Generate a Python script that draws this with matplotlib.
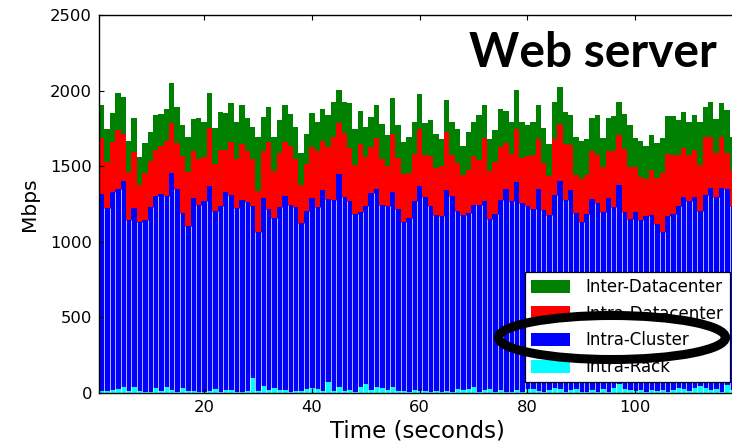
import numpy as np
import matplotlib
matplotlib.use("Agg")
import matplotlib.pyplot as plt
from matplotlib.patches import Ellipse, Patch

# traffic per second (Mbps)
seconds = np.arange(1, 119)

intra_rack = [11, 11, 20, 26, 40, 11, 40, 13, 7, 7,
              33, 13, 40, 20, 7, 33, 13, 13, 7, 4,
              13, 26, 4, 20, 20, 7, 4, 13, 99, 13,
              46, 20, 33, 20, 20, 7, 13, 13, 26, 33,
              26, 11, 73, 13, 40, 13, 20, 7, 40, 60,
              20, 40, 33, 20, 40, 13, 13, 7, 20, 13,
              13, 7, 13, 7, 13, 7, 26, 20, 26, 40,
              7, 20, 26, 7, 20, 7, 7, 20, 7, 26,
              26, 13, 7, 20, 33, 26, 7, 20, 26, 7,
              7, 20, 7, 26, 7, 33, 60, 26, 20, 13,
              20, 7, 20, 13, 20, 7, 20, 33, 26, 13,
              33, 46, 33, 20, 26, 7, 53, 20]

intra_cluster = [1307, 1215, 1312, 1323, 1362, 1135, 1186, 1120, 1139, 1223,
                 1272, 1305, 1265, 1435, 1342, 1157, 1094, 1279, 1236, 1266,
                 1358, 1178, 1235, 1312, 1290, 1219, 1275, 1252, 1140, 1054,
                 1246, 1197, 1127, 1210, 1285, 1236, 1217, 1111, 1178, 1259,
                 1204, 1334, 1210, 1266, 1411, 1283, 1250, 1179, 1159, 1179,
                 1303, 1309, 1210, 1219, 1292, 1204, 1120, 1153, 1250, 1358,
                 1283, 1232, 1164, 1166, 1332, 1298, 1178, 1157, 1164, 1203,
                 1236, 1250, 1125, 1179, 1259, 1342, 1263, 1378, 1250, 1213,
                 1191, 1336, 1206, 1157, 1277, 1376, 1272, 1325, 1164, 1126,
                 1179, 1263, 1250, 1173, 1285, 1197, 1316, 1173, 1131, 1186,
                 1126, 1161, 1157, 1107, 1047, 1166, 1166, 1206, 1270, 1257,
                 1263, 1158, 1277, 1338, 1270, 1351, 1296, 1219]

intra_dc = [370, 304, 331, 392, 313, 318, 370, 243, 309, 304,
            304, 318, 362, 331, 304, 379, 357, 309, 304, 291,
            384, 313, 370, 278, 353, 322, 370, 335, 309, 269,
            309, 445, 309, 357, 357, 392, 318, 251, 313, 335,
            370, 322, 344, 415, 335, 423, 353, 322, 450, 322,
            304, 340, 304, 265, 384, 340, 318, 295, 313, 375,
            278, 331, 313, 331, 384, 269, 318, 265, 287, 326,
            300, 419, 318, 344, 348, 304, 313, 348, 300, 331,
            357, 331, 309, 260, 370, 379, 370, 295, 251, 282,
            256, 318, 318, 295, 309, 370, 331, 415, 344, 295,
            282, 247, 300, 304, 388, 410, 388, 335, 326, 304,
            313, 304, 384, 335, 291, 335, 238, 236]

inter_dc = [216, 216, 190, 243, 243, 203, 223, 185, 198, 194,
            229, 212, 212, 265, 238, 203, 229, 212, 273, 234,
            229, 238, 251, 245, 256, 247, 256, 218, 212, 357,
            225, 229, 225, 218, 243, 209, 212, 212, 196, 225,
            192, 212, 212, 232, 218, 205, 295, 238, 216, 198,
            198, 216, 232, 203, 236, 216, 212, 238, 209, 234,
            212, 236, 225, 176, 212, 218, 225, 194, 251, 223,
            295, 216, 212, 209, 251, 212, 209, 258, 236, 203,
            218, 225, 229, 212, 247, 243, 207, 198, 251, 251,
            238, 218, 265, 192, 218, 232, 218, 232, 278, 192,
            238, 218, 229, 229, 232, 249, 258, 232, 236, 216,
            229, 282, 198, 232, 225, 225, 284, 218]

labels = ["Inter-Datacenter", "Intra-Datacenter", "Intra-Cluster", "Intra-Rack"]
colors = ["#008000", "#ff0000", "#0000ff", "#00ffff"]

rack = np.array(intra_rack)
cluster = np.array(intra_cluster)
idc = np.array(intra_dc)
xdc = np.array(inter_dc)

W, H = 732, 443
fig = plt.figure(figsize=(W / 100, H / 100), dpi=100)
ax = fig.add_axes([99 / W, 50 / H, 636 / W, 378 / H])

ax.bar(seconds, rack, width=1.0, color=colors[3], linewidth=0)
ax.bar(seconds, cluster, width=1.0, bottom=rack, color=colors[2], linewidth=0)
ax.bar(seconds, idc, width=1.0, bottom=rack + cluster, color=colors[1], linewidth=0)
ax.bar(seconds, xdc, width=1.0, bottom=rack + cluster + idc, color=colors[0], linewidth=0)

# thin white separators between neighbouring blue bars
blue_top = rack + cluster
ax.vlines(seconds[:-1] + 0.5, 0, np.minimum(blue_top[:-1], blue_top[1:]),
          colors="white", linewidth=0.5)

ax.set_xlim(0.5, 118.5)
ax.set_ylim(0, 2500)
ax.set_xticks([20, 40, 60, 80, 100])
ax.set_yticks([0, 500, 1000, 1500, 2000, 2500])
ax.tick_params(direction="in", length=3.6, width=0.8, top=True,
               labelsize=11.8, pad=5)
for s in ax.spines.values():
    s.set_linewidth(1.0)
ax.spines["right"].set_visible(False)

ax.set_xlabel("Time (seconds)", fontsize=16.5, labelpad=3)
ax.set_ylabel("Mbps", fontsize=14.5, labelpad=8)

handles = [Patch(facecolor=c, edgecolor="none") for c in colors]
leg = ax.legend(handles, labels, loc="lower right",
                bbox_to_anchor=(729.5 / W, 61 / H), bbox_transform=fig.transFigure,
                borderaxespad=0, fontsize=12, fancybox=False, framealpha=1,
                edgecolor="black", handlelength=2.34, handleheight=0.84,
                handletextpad=0.94, labelspacing=0.52, borderpad=0.36)
leg.get_frame().set_linewidth(0.9)

fig.add_artist(Ellipse((612 / W, 1 - 337.5 / H), 227 / W, 44 / H,
                       transform=fig.transFigure, fill=False,
                       edgecolor="black", linewidth=6.5, zorder=10))

fig.text(469 / W, 1 - 66.7 / H, "Web server", fontfamily="Lato",
         fontweight="bold", fontsize=34.5, ha="left", va="baseline")

fig.savefig("out.png", dpi=100)
